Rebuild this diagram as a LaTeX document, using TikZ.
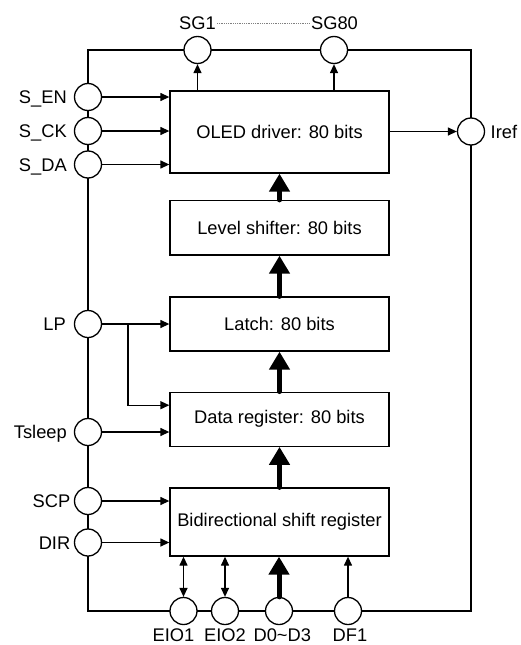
\documentclass[tikz,border=0pt]{standalone}
\usepackage{fontspec}
\setmainfont{Liberation Sans}
\usetikzlibrary{arrows.meta}
\begin{document}
\begin{tikzpicture}[x=1pt,y=-1pt,
  txt/.style={font=\fontsize{18.3}{22}\selectfont, inner sep=0pt},
  pin/.style={circle, draw, fill=white, minimum size=27pt, inner sep=0pt, line width=1.3pt},
  blk/.style={draw, line width=1.3pt, minimum width=219pt, txt},
  wire/.style={line width=1.3pt},
  arr/.style={line width=1.3pt, -{Triangle[length=9pt,width=8pt]}},
  darr/.style={line width=1.3pt, {Triangle[length=9pt,width=8pt]}-{Triangle[length=9pt,width=8pt]}},
  bus/.style={line width=5pt, line cap=round, -{Triangle[length=18pt,width=20pt]}},
  lbl/.style={txt, anchor=base east},
  blbl/.style={txt, anchor=base}
]
\useasboundingbox (0,0) rectangle (520,645);
% frame wire
\coordinate (ftl) at (88,50);
\coordinate (fbr) at (471,611);
\draw[wire] (ftl) rectangle (fbr);
% blocks
\node[blk, minimum height=82pt] (oled) at (279.5,132) {OLED driver: 80 bits};
\node[blk, minimum height=54.5pt] (level) at (279.5,227.8) {Level shifter: 80 bits};
\node[blk, minimum height=54pt] (latch) at (279.5,324) {Latch: 80 bits};
\node[blk, minimum height=54pt] (data) at (279.5,419.2) {Data register: 80 bits};
\node[blk, minimum height=68pt] (bidir) at (279.5,522) {Bidirectional shift register};
% pins
\node[pin] (sen) at (88,97) {};
\node[pin] (sck) at (88,131) {};
\node[pin] (sda) at (88,164.5) {};
\node[pin] (lp) at (88,324) {};
\node[pin] (ts) at (88,432) {};
\node[pin] (scp) at (88,501) {};
\node[pin] (dir) at (88,542.5) {};
\node[pin] (sg1) at (197.5,50) {};
\node[pin] (sg80) at (334,50) {};
\node[pin] (iref) at (471,131.5) {};
\node[pin] (eio1) at (183.5,611) {};
\node[pin] (eio2) at (225,611) {};
\node[pin] (d0) at (279,611) {};
\node[pin] (df1) at (348,611) {};
% labels
\node[lbl] (lsen) at (67,103.6) {S\_EN};
\node[lbl] (lsck) at (67,137.6) {S\_CK};
\node[lbl] (lsda) at (67,171.1) {S\_DA};
\node[lbl] (llp) at (66,330.6) {LP};
\node[lbl] (lts) at (67,438.6) {Tsleep};
\node[lbl] (lscp) at (70.5,507.6) {SCP};
\node[lbl] (ldir) at (70.5,549.1) {DIR};
\node[txt, anchor=base west] (liref) at (490.5,138.1) {Iref};
\node[blbl] (lsg1) at (197.5,29.6) {SG1};
\node[blbl] (lsg80) at (334.5,29.6) {SG80};
\node[blbl] (leio1) at (173.5,641.5) {EIO1};
\node[blbl] (leio2) at (225,641.5) {EIO2};
\node[blbl] (ld0) at (282.3,641.5) {D0\textasciitilde D3};
\node[blbl] (ldf1) at (350,641.5) {DF1};
\draw[gray, line width=0.7pt, dash pattern=on 0.7pt off 1.1pt] ([xshift=1pt]lsg1.east) -- ([xshift=-1pt]lsg80.west);
% control inputs
\draw[arr] (sen.east) -- (sen.east -| oled.west);
\draw[arr] (sck.east) -- (sck.east -| oled.west);
\draw[arr] (sda.east) -- (sda.east -| oled.west);
\draw[arr] (lp.east) -- (lp.east -| latch.west);
\coordinate (lpbr) at (128,324);
\draw[arr] (lpbr) |- ([yshift=14pt]data.west);
\draw[arr] (ts.east) -- (ts.east -| data.west);
\draw[arr] (scp.east) -- (scp.east -| bidir.west);
\draw[arr] (dir.east) -- (dir.east -| bidir.west);
% outputs
\draw[arr] (sg1.south |- oled.north) -- (sg1.south);
\draw[arr] (sg80.south |- oled.north) -- (sg80.south);
\draw[arr] (oled.east |- iref.west) -- (iref.west);
% bottom pins
\draw[darr] (eio1.north |- bidir.south) -- (eio1.north);
\draw[darr] (eio2.north |- bidir.south) -- (eio2.north);
\draw[bus] (d0.north) -- (d0.north |- bidir.south);
\draw[arr] (df1.north) -- (df1.north |- bidir.south);
% data path
\draw[bus] (bidir.north) -- (data.south);
\draw[bus] (data.north) -- (latch.south);
\draw[bus] (latch.north) -- (level.south);
\draw[bus] (level.north) -- (oled.south);
\end{tikzpicture}
\end{document}
